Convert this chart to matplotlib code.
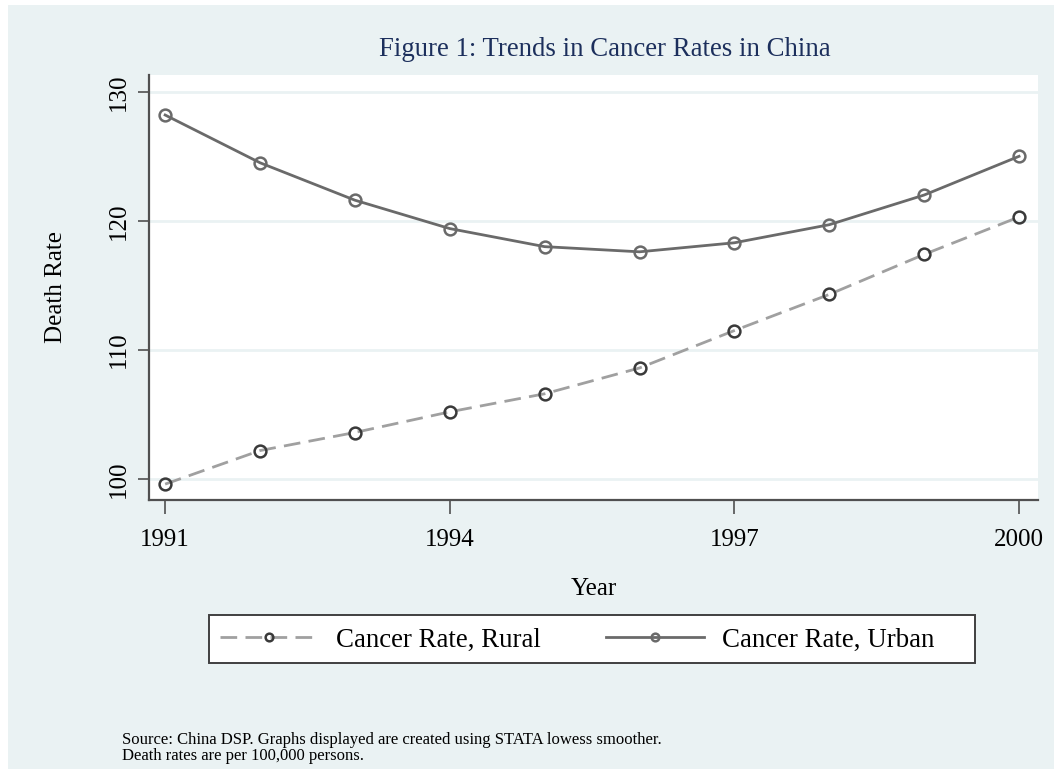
import matplotlib
matplotlib.use("Agg")
import matplotlib.pyplot as plt
from matplotlib.patches import Rectangle

years = [1991, 1992, 1993, 1994, 1995, 1996, 1997, 1998, 1999, 2000]
urban = [128.2, 124.5, 121.6, 119.4, 118.0, 117.6, 118.3, 119.7, 122.0, 125.0]
rural = [99.6, 102.2, 103.6, 105.2, 106.6, 108.6, 111.5, 114.3, 117.4, 120.3]
xticks = [1991, 1994, 1997, 2000]
yticks = [100, 110, 120, 130]

plt.rcParams["font.family"] = ["Liberation Serif", "DejaVu Serif"]

W, H = 1054, 769
BG = "#eaf2f3"

fig = plt.figure(figsize=(W / 100, H / 100), dpi=100, facecolor="white")
# stata-like background, with thin white strip top and left
fig.patches.append(Rectangle((8 / W, 0), 1 - 8 / W, 1 - 5 / H, transform=fig.transFigure,
                             facecolor=BG, edgecolor="none", zorder=-10))

ax = fig.add_axes([149 / W, 1 - 500 / H, (1038 - 149) / W, (500 - 75) / H])
ax.set_facecolor("white")

ax.plot(years, rural, color="#a0a0a0", lw=2, dashes=(6, 3), marker="o", ms=8.5,
        mfc="none", mec="#3a3a3a", mew=1.8, label="Cancer Rate, Rural")
ax.plot(years, urban, color="#6a6a6a", lw=2, marker="o", ms=8.5,
        mfc="none", mec="#6a6a6a", mew=1.8, label="Cancer Rate, Urban")

ax.set_xlim(1990.83, 2000.2)
ax.set_ylim(98.37, 131.3)
ax.set_xticks(xticks)
ax.set_yticks(yticks)
ax.grid(axis="y", color=BG, lw=2)
ax.set_axisbelow(True)

for s in ["top", "right"]:
    ax.spines[s].set_visible(False)
for s in ["left", "bottom"]:
    ax.spines[s].set_color("#505050")
    ax.spines[s].set_linewidth(1.6)

ax.tick_params(axis="x", length=10, width=1.2, color="#505050", labelsize=18, pad=11)
ax.tick_params(axis="y", length=8, width=1.2, color="#505050", labelsize=18, pad=6)
for lbl in ax.get_yticklabels():
    lbl.set_rotation(90)
    lbl.set_va("center")

ax.set_xlabel("Year", fontsize=18, labelpad=19)
ax.set_ylabel("Death Rate", fontsize=18, labelpad=29)

fig.text(605 / W, 1 - 50 / H, "Figure 1: Trends in Cancer Rates in China",
         ha="center", va="center", fontsize=19.3, color="#1c2f5c")

# legend box drawn by hand so its size matches
fig.patches.append(Rectangle((209 / W, 1 - 663 / H), (975 - 209) / W, 48 / H,
                             transform=fig.transFigure, facecolor="white",
                             edgecolor="#404040", lw=1.4, zorder=1))
leg = fig.legend(loc="center left", ncol=2, bbox_to_anchor=(220 / W, 1 - 640 / H),
                 borderaxespad=0, borderpad=0, fontsize=19.4, frameon=False,
                 handlelength=3.64, handletextpad=0.67, columnspacing=2.4,
                 markerscale=0.65)
leg.set_zorder(2)

fig.text(122 / W, 1 - 748 / H,
         "Source: China DSP. Graphs displayed are created using STATA lowess smoother.\n"
         "Death rates are per 100,000 persons.",
         ha="left", va="center", fontsize=12, linespacing=1.0)

fig.savefig("out.png", dpi=100, facecolor=fig.get_facecolor())
